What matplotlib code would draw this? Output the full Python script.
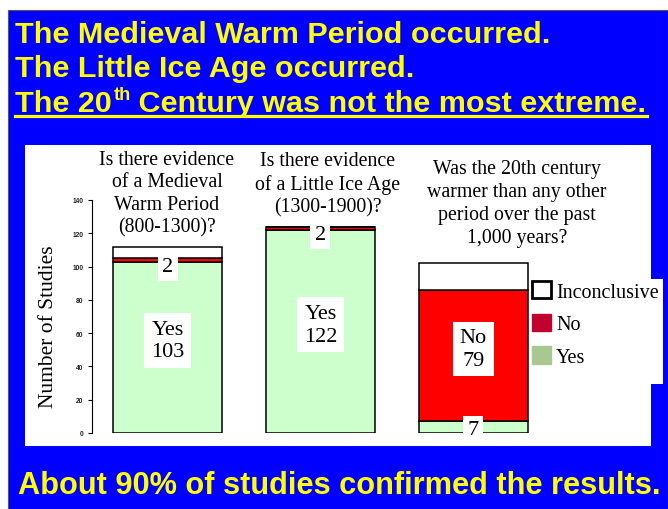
import matplotlib
matplotlib.use("Agg")
import matplotlib.pyplot as plt
from matplotlib.patches import Rectangle, Patch
from matplotlib.lines import Line2D
import numpy as np

# ---------------- data ----------------
questions = [
    "Is there evidence\nof a Medieval\nWarm Period\n(800-1300)?",
    "Is there evidence\nof a Little Ice Age\n(1300-1900)?",
    "Was the 20th century\nwarmer than any other\nperiod over the past\n1,000 years?",
]
series_names = ["Yes", "No", "Inconclusive"]
yes_counts = [103, 122, 7]
no_counts = [2, 2, 79]
inconclusive_counts = [7, 0, 16]
y_ticks = [0, 20, 40, 60, 80, 100, 120, 140]
header_lines = ["The Medieval Warm Period occurred.",
                "The Little Ice Age occurred."]
header_line3 = ["The 20", "th", " Century was not the most extreme."]
footer_text = "About 90% of studies confirmed the results."
y_label = "Number of Studies"

# ---------------- figure ----------------
W, H = 668, 510
fig = plt.figure(figsize=(W / 100, H / 100), dpi=100)
fig.patch.set_facecolor("white")

def fx(px):
    return px / W

def fy(py):
    return 1 - py / H

BLUE = "#0000FF"
YELLOW = "#FFFF00"
serif = "Liberation Serif"
headfont = "Liberation Sans"

# blue slide background
fig.patches.append(Rectangle((fx(8), 0), 1 - fx(8), fy(11), transform=fig.transFigure,
                             facecolor=BLUE, edgecolor="#555555", lw=0.8, zorder=-10))
# white chart panel
fig.patches.append(Rectangle((fx(25), fy(447)), fx(651) - fx(25), fy(146) - fy(447),
                             transform=fig.transFigure, facecolor="white",
                             edgecolor="none", zorder=-9))
# legend white box extending past the panel
fig.patches.append(Rectangle((fx(530), fy(385)), fx(663) - fx(530), fy(280) - fy(385),
                             transform=fig.transFigure, facecolor="white",
                             edgecolor="none", zorder=-8))

# ---------------- axes ----------------
ax = fig.add_axes([fx(92), fy(434), fx(640) - fx(92), fy(201) - fy(434)])
ax.patch.set_visible(False)
x = np.arange(len(questions))
yes = np.array(yes_counts)
no = np.array(no_counts)
inc = np.array(inconclusive_counts)
bw = 0.71
ekw = dict(edgecolor="black", linewidth=1.1)
ax.bar(x, yes, width=bw, color="#CCFFCC", **ekw)
ax.bar(x, no, width=bw, bottom=yes, color="#FF0000", **ekw)
ax.bar(x, inc, width=bw, bottom=yes + no, color="white", **ekw)

ax.set_xlim(-0.494, 3.09)
ax.set_ylim(0, 140)
ax.set_yticks(y_ticks)
ax.set_yticklabels([str(t) for t in y_ticks], fontsize=4.8, fontweight="bold",
                   family="Liberation Sans", color="#222222")
ax.tick_params(axis="y", length=3, width=0.8, pad=3)
ax.set_xticks([])
for s in ["top", "right", "bottom"]:
    ax.spines[s].set_visible(False)
ax.spines["left"].set_linewidth(0.8)
ax.set_ylabel(y_label, family=serif, fontsize=15.5)
ax.yaxis.set_label_coords((58 - 92) / 548, (434 - 327) / 233)

# segment labels
for i in range(len(x)):
    bottom = 0
    for name, vals in (("Yes", yes), ("No", no)):
        v = vals[i]
        if v >= 20:
            ax.text(x[i], bottom + v / 2 + 4, f"{name}\n{v}", ha="center", va="center",
                    family=serif, fontsize=16, linespacing=1.25,
                    bbox=dict(facecolor="white", edgecolor="none",
                              boxstyle="square,pad=0.3"))
        elif v > 0:
            ax.text(x[i], bottom + v - 5, f"{v}", ha="center", va="center",
                    family=serif, fontsize=16, clip_on=False,
                    bbox=dict(facecolor="white", edgecolor="none",
                              boxstyle="square,pad=0.2"))
        bottom += v

# question texts
q_pos = [(167, 194), (328, 185), (517, 204)]
q_spacing = [1.24, 1.24, 1.3]
for q, (px, py), ls in zip(questions, q_pos, q_spacing):
    fig.text(fx(px), fy(py), q, ha="center", va="center", ma="center",
             family=serif, fontsize=14.3, linespacing=ls)

# legend
handles = [Patch(facecolor="white", edgecolor="black", linewidth=2),
           Patch(facecolor="#C0002F", edgecolor="#C0002F"),
           Patch(facecolor="#A8C890", edgecolor="#A8C890")]
ax.legend(handles, [series_names[2], series_names[1], series_names[0]],
          loc="upper left", bbox_to_anchor=(fx(532), fy(282)),
          bbox_transform=fig.transFigure, frameon=False,
          prop=dict(family=serif, size=14.5), handlelength=0.95, handleheight=0.95,
          handletextpad=0.25, labelspacing=0.6, borderaxespad=0, borderpad=0)

# ---------------- header / footer text ----------------
renderer = fig.canvas.get_renderer()

def place(text, xp, base, size):
    return fig.text(fx(xp), fy(base), text, ha="left", va="baseline", color=YELLOW,
                    family=headfont, fontweight="bold", fontsize=size)

def fit(text, xp, base, width):
    t = place(text, xp, base, 20)
    bb = t.get_window_extent(renderer)
    t.set_fontsize(20 * width / bb.width)
    return t

t1 = fit(header_lines[0], 15, 43, 534)
hs = t1.get_fontsize()
place(header_lines[1], 15, 77, hs)
a = place(header_line3[0], 15, 112, hs)
ra = a.get_window_extent(renderer).x1
b = place(header_line3[1], ra + 1.5, 100, hs * 0.6)
rb = b.get_window_extent(renderer).x1
c = place(header_line3[2], rb, 112, hs)
rc = c.get_window_extent(renderer).x1
fig.add_artist(Line2D([fx(15), fx(rc)], [fy(117), fy(117)], transform=fig.transFigure,
                      color=YELLOW, lw=2.3))

fit(footer_text, 18, 494, 642)

fig.savefig("out.png", dpi=100)
